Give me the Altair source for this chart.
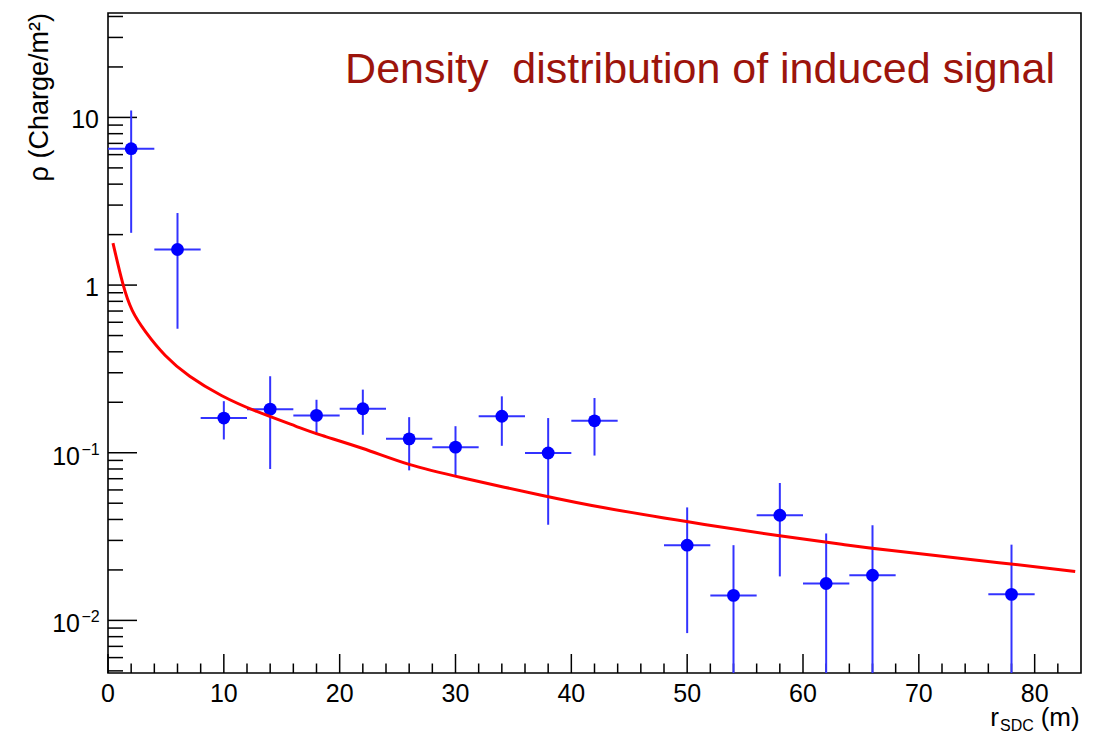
import altair as alt
import pandas as pd

# ---- data ----
x_center = [2, 6, 10, 14, 18, 22, 26, 30, 34, 38, 42, 50, 54, 58, 62, 66, 78]
x_halfwidth = [2] * 17
rho = [6.51, 1.63, 0.161, 0.182, 0.167, 0.183, 0.121, 0.108, 0.165, 0.0997, 0.155,
       0.0281, 0.0141, 0.0424, 0.0166, 0.0186, 0.0143]
rho_hi = [11.0, 2.69, 0.203, 0.286, 0.207, 0.238, 0.163, 0.144, 0.217, 0.161, 0.212,
          0.0472, 0.0281, 0.066, 0.033, 0.0369, 0.0283]
rho_lo = [2.05, 0.549, 0.12, 0.080, 0.128, 0.128, 0.0785, 0.0723, 0.110, 0.0372, 0.0962,
          0.0084, 0.001, 0.0183, 0.001, 0.001, 0.001]

fit_x = [0.43, 1.3, 2.02, 3.17, 4.9, 6.91, 9.79, 12.67, 16.6, 18.05, 22.0, 26.0, 30.0,
         38.0, 42.46, 50.0, 58.0, 64.0, 66.0, 78.0, 83.5]
fit_y = [1.78, 0.98, 0.70, 0.53, 0.376, 0.286, 0.217, 0.177, 0.141, 0.129, 0.107, 0.0838,
         0.0723, 0.0545, 0.0472, 0.0387, 0.0318, 0.0281, 0.0268, 0.0217, 0.0196]

x_major_ticks = [0, 10, 20, 30, 40, 50, 60, 70, 80]
x_minor_ticks = [2, 4, 6, 8, 12, 14, 16, 18, 22, 24, 26, 28, 32, 34, 36, 38, 42, 44, 46, 48,
                 52, 54, 56, 58, 62, 64, 66, 68, 72, 74, 76, 78, 82]
y_major_ticks = [0.01, 0.1, 1, 10]
y_minor_ticks = [0.005, 0.006, 0.007, 0.008, 0.009,
                 0.02, 0.03, 0.04, 0.05, 0.06, 0.07, 0.08, 0.09,
                 0.2, 0.3, 0.4, 0.5, 0.6, 0.7, 0.8, 0.9,
                 2, 3, 4, 5, 6, 7, 8, 9, 20, 30, 40]
x_tick_labels = ["0", "10", "20", "30", "40", "50", "60", "70", "80"]
y_plain_vals = [10, 1]
y_plain_labels = ["10", "1"]
y_exp_vals = [0.1, 0.01]
y_exp_base = ["10", "10"]
y_exp_power = ["\u22121", "\u22122"]

title_text = "Density\u00a0 distribution of induced signal"
y_title = "\u03c1 (Charge/m\u00b2)"

FONT = "Liberation Sans"
W, H = 973, 660

pts = pd.DataFrame({"x": x_center, "xerr": x_halfwidth, "rho": rho, "lo": rho_lo, "hi": rho_hi})
pts["xlo"] = pts["x"] - pts["xerr"]
pts["xhi"] = pts["x"] + pts["xerr"]
fit = pd.DataFrame({"x": fit_x, "y": fit_y})

xs = alt.Scale(domain=[0, 84], nice=False, zero=False)
ys = alt.Scale(type="log", domain=[0.004856, 41.96], nice=False)


def X(f):
    return alt.X(f, type="quantitative", scale=xs, axis=None)


def Y(f):
    return alt.Y(f, type="quantitative", scale=ys, axis=None)


EB = "#3333ff"
vbars = alt.Chart(pts).mark_rule(color=EB, strokeWidth=2, clip=True).encode(
    x=X("x"), y=Y("lo"), y2="hi")
hbars = alt.Chart(pts).mark_rule(color=EB, strokeWidth=2, clip=True).encode(
    x=X("xlo"), x2="xhi", y=Y("rho"))
markers = alt.Chart(pts).mark_circle(size=165, color="#0000ff", opacity=1).encode(
    x=X("x"), y=Y("rho"))
fit_line = alt.Chart(fit).mark_line(color="#ff0000", strokeWidth=3, interpolate="basis",
                                    clip=True).encode(x=X("x"), y=Y("y"))

ymaj = alt.Chart(pd.DataFrame({"v": y_major_ticks})).mark_rule(color="black", strokeWidth=1.5).encode(
    y=Y("v"), x=alt.value(0), x2=alt.value(29))
ymin = alt.Chart(pd.DataFrame({"v": y_minor_ticks})).mark_rule(color="black", strokeWidth=1.5).encode(
    y=Y("v"), x=alt.value(0), x2=alt.value(15))
xmaj = alt.Chart(pd.DataFrame({"v": x_major_ticks})).mark_rule(color="black", strokeWidth=1.5).encode(
    x=X("v"), y=alt.value(H), y2=alt.value(H - 19))
xmin = alt.Chart(pd.DataFrame({"v": x_minor_ticks})).mark_rule(color="black", strokeWidth=1.5).encode(
    x=X("v"), y=alt.value(H), y2=alt.value(H - 9.5))

xlab = alt.Chart(pd.DataFrame({"v": x_major_ticks, "t": x_tick_labels})).mark_text(
    font=FONT, fontSize=25, align="center", baseline="top", color="black").encode(
    x=X("v"), y=alt.value(H + 9), text="t:N")
ylab = alt.Chart(pd.DataFrame({"v": y_plain_vals, "t": y_plain_labels})).mark_text(
    font=FONT, fontSize=25, align="right", baseline="middle", dy=2.5, color="black").encode(
    y=Y("v"), x=alt.value(-9), text="t:N")
ylab_base = alt.Chart(pd.DataFrame({"v": y_exp_vals, "t": y_exp_base})).mark_text(
    font=FONT, fontSize=25, align="right", baseline="middle", dy=4, color="black").encode(
    y=Y("v"), x=alt.value(-28), text="t:N")
ylab_pow = alt.Chart(pd.DataFrame({"v": y_exp_vals, "t": y_exp_power})).mark_text(
    font=FONT, fontSize=16, align="left", baseline="middle", dy=-3, color="black").encode(
    y=Y("v"), x=alt.value(-26.5), text="t:N")

one = pd.DataFrame({"t": [title_text]})
title = alt.Chart(one).mark_text(font=FONT, fontSize=43, align="right", baseline="alphabetic",
                                 color="#9c140c").encode(
    x=alt.value(947), y=alt.value(70), text="t:N")

ytitle = alt.Chart(pd.DataFrame({"t": [y_title]})).mark_text(
    font=FONT, fontSize=27, align="right", baseline="middle", angle=270, color="black").encode(
    x=alt.value(-68), y=alt.value(0), text="t:N")

xt_r = alt.Chart(pd.DataFrame({"t": ["r"]})).mark_text(
    font=FONT, fontSize=26, align="right", baseline="alphabetic", color="black").encode(
    x=alt.value(891), y=alt.value(H + 52.5), text="t:N")
xt_sub = alt.Chart(pd.DataFrame({"t": ["SDC"]})).mark_text(
    font=FONT, fontSize=16, align="left", baseline="alphabetic", color="black").encode(
    x=alt.value(892), y=alt.value(H + 58), text="t:N")
xt_m = alt.Chart(pd.DataFrame({"t": ["(m)"]})).mark_text(
    font=FONT, fontSize=26, align="right", baseline="alphabetic", color="black").encode(
    x=alt.value(971.7), y=alt.value(H + 52.5), text="t:N")

chart = alt.layer(
    ymin, ymaj, xmin, xmaj,
    vbars, hbars, markers, fit_line,
    xlab, ylab, ylab_base, ylab_pow,
    title, ytitle, xt_r, xt_sub, xt_m,
).properties(
    width=W, height=H,
    autosize=alt.AutoSizeParams(type="none"),
    padding={"left": 100, "top": 5, "right": 20, "bottom": 60},
).configure_view(stroke="black", strokeWidth=1.6)

chart.save("out.html", embed_options={"renderer": "svg", "actions": False})
